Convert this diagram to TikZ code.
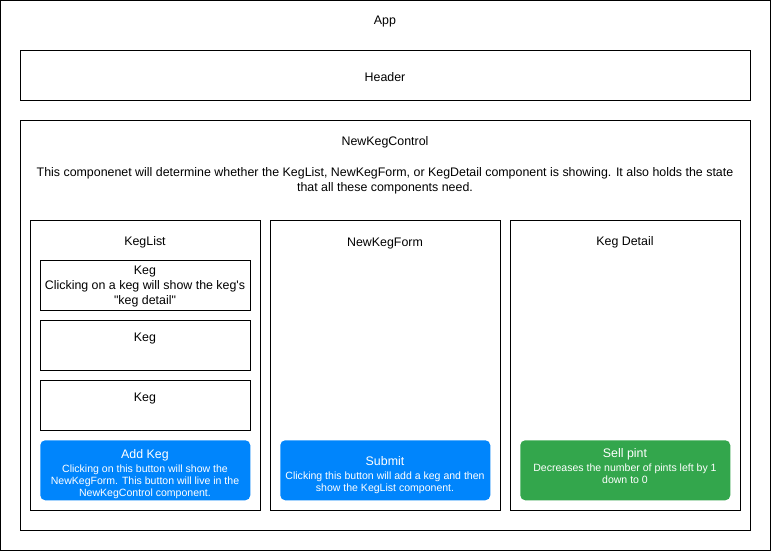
\documentclass[tikz,border=0pt]{standalone}
\usepackage{fontspec}
\setmainfont{Liberation Sans}
\usepackage{xcolor}
\usepackage{tikz}
\usetikzlibrary{positioning}
\definecolor{kegblue}{HTML}{0085FC}
\definecolor{keggreen}{HTML}{33A64C}

\begin{document}
\begin{tikzpicture}[
  x=0.75pt, y=-0.75pt,
  box/.style={
    draw=black, fill=white, line width=0.75pt, anchor=north west,
    inner sep=0pt, outer sep=0pt
  },
  button/.style={
    fill=#1, draw=none, anchor=north west, rounded corners=3.75pt,
    minimum width=157.5pt, minimum height=45pt, inner sep=0pt
  },
  title/.style={
    font=\fontsize{9.3}{11.25}\selectfont, align=center, inner sep=0pt
  },
  btntitle/.style={
    font=\fontsize{9.3}{11.25}\selectfont, text=white, inner sep=0pt
  },
  btntext/.style={
    font=\fontsize{7.9}{9}\selectfont, text=white, align=center, inner sep=0pt
  }
]
\useasboundingbox (0,0) rectangle (771,551);

% App and Header
\node[box, minimum width=577.5pt, minimum height=412.5pt] (app) at (0.5,0.5) {};
\node[title] (applabel) at (385,22) {App};
\node[box, minimum width=547.5pt, minimum height=37.5pt] (header) at (20,50) {};
\node[title] (headerlabel) at (385,77) {Header};

% NewKegControl
\node[box, minimum width=547.5pt, minimum height=307.5pt] (control) at (20,120) {};
\node[title] (controllabel) at (385,142) {NewKegControl};
\node[title] (controltext) at (385,180.5) {This componenet will determine whether the KegList, NewKegForm, or KegDetail component is showing. It also holds the state\\that all these components need.};

% Three columns
\node[box, minimum width=172.5pt, minimum height=217.5pt] (keglist) at (30,220) {};
\node[title] (keglistlabel) at (145,242) {KegList};
\node[box, minimum width=172.5pt, minimum height=217.5pt] (kegform) at (270,220) {};
\node[title] (kegformlabel) at (385,244) {NewKegForm};
\node[box, minimum width=172.5pt, minimum height=217.5pt] (kegdetail) at (510,220) {};
\node[title] (kegdetaillabel) at (625,242) {Keg Detail};

% Kegs in the list
\node[box, minimum width=157.5pt, minimum height=37.5pt] (keg1) at (40,260) {};
\node[title] (keg1label) at (145,286.5) {Keg\\Clicking on a keg will show the keg\textquotesingle s\\\textquotedbl keg detail\textquotedbl};
\node[box, minimum width=157.5pt, minimum height=37.5pt] (keg2) at (40,320) {};
\node[title] (keg2label) at (145,339) {Keg};
\node[box, minimum width=157.5pt, minimum height=37.5pt] (keg3) at (40,380) {};
\node[title] (keg3label) at (145,399) {Keg};

% Buttons
\node[button=kegblue] (addkeg) at (40,440) {};
\node[btntitle] (addkegtitle) at (145,455) {Add Keg};
\node[btntext] (addkegtext) at (145,481.5) {Clicking on this button will show the\\NewKegForm. This button will live in the\\NewKegControl component.};

\node[button=kegblue] (submit) at (280,440) {};
\node[btntitle] (submittitle) at (385,461) {Submit};
\node[btntext] (submittext) at (385,482.5) {Clicking this button will add a keg and then\\show the KegList component.};

\node[button=keggreen] (sellpint) at (520,440) {};
\node[btntitle] (sellpinttitle) at (625,454) {Sell pint};
\node[btntext] (sellpinttext) at (625,473.5) {Decreases the number of pints left by 1\\down to 0};

\end{tikzpicture}
\end{document}
